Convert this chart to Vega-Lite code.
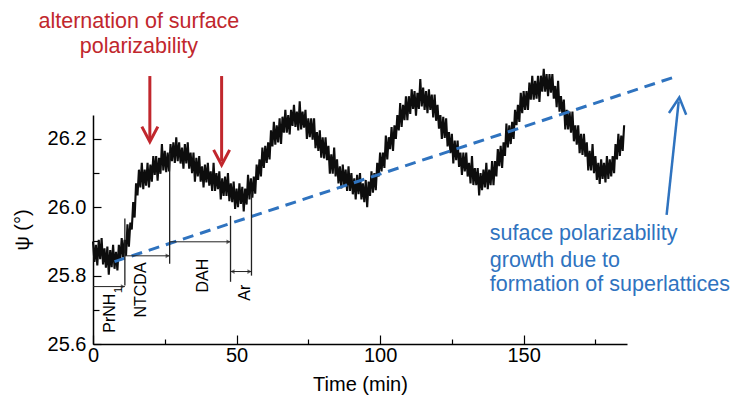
{
  "$schema": "https://vega.github.io/schema/vega-lite/v6.json",
  "width": 534,
  "height": 229,
  "autosize": "none",
  "padding": {"left": 93, "top": 115, "right": 104, "bottom": 61},
  "background": "white",
  "config": {"view": {"stroke": null}, "font": "Liberation Sans"},
  "datasets": {
    "trace": [
{"t":0,"v":25.90},{"t":0.5,"v":25.84},{"t":1,"v":25.89},{"t":1.5,"v":25.83},{"t":2,"v":25.905},{"t":2.5,"v":25.848},{"t":3,"v":25.91},{"t":3.5,"v":25.833},{"t":4,"v":25.88},{"t":4.5,"v":25.823},{"t":5,"v":25.885},{"t":5.5,"v":25.803},{"t":6,"v":25.875},{"t":6.5,"v":25.825},{"t":7,"v":25.89},{"t":7.5,"v":25.82},{"t":8,"v":25.87},{"t":8.5,"v":25.815},{"t":9,"v":25.89},{"t":9.5,"v":25.845},
{"t":10,"v":25.91},{"t":10.5,"v":25.853},{"t":11,"v":25.905},{"t":11.5,"v":25.858},{"t":12,"v":25.95},{"t":12.5,"v":25.885},{"t":13,"v":25.955},{"t":13.5,"v":25.935},{"t":14,"v":26.015},{"t":14.5,"v":25.97},{"t":15,"v":26.07},{"t":15.5,"v":26.035},{"t":16,"v":26.11},{"t":16.5,"v":26.058},{"t":17,"v":26.13},{"t":17.5,"v":26.053},{"t":18,"v":26.11},{"t":18.5,"v":26.063},{"t":19,"v":26.13},{"t":19.5,"v":26.058},
{"t":20,"v":26.125},{"t":20.5,"v":26.075},{"t":21,"v":26.15},{"t":21.5,"v":26.095},{"t":22,"v":26.15},{"t":22.5,"v":26.078},{"t":23,"v":26.145},{"t":23.5,"v":26.098},{"t":24,"v":26.185},{"t":24.5,"v":26.108},{"t":25,"v":26.165},{"t":25.5,"v":26.103},{"t":26,"v":26.16},{"t":26.5,"v":26.105},{"t":27,"v":26.185},{"t":27.5,"v":26.135},{"t":28,"v":26.19},{"t":28.5,"v":26.13},{"t":29,"v":26.205},{"t":29.5,"v":26.135},
{"t":30,"v":26.19},{"t":30.5,"v":26.128},{"t":31,"v":26.175},{"t":31.5,"v":26.113},{"t":32,"v":26.185},{"t":32.5,"v":26.128},{"t":33,"v":26.19},{"t":33.5,"v":26.113},{"t":34,"v":26.16},{"t":34.5,"v":26.10},{"t":35,"v":26.16},{"t":35.5,"v":26.075},{"t":36,"v":26.145},{"t":36.5,"v":26.09},{"t":37,"v":26.15},{"t":37.5,"v":26.075},{"t":38,"v":26.12},{"t":38.5,"v":26.058},{"t":39,"v":26.125},{"t":39.5,"v":26.073},
{"t":40,"v":26.13},{"t":40.5,"v":26.063},{"t":41,"v":26.105},{"t":41.5,"v":26.048},{"t":42,"v":26.13},{"t":42.5,"v":26.048},{"t":43,"v":26.10},{"t":43.5,"v":26.053},{"t":44,"v":26.105},{"t":44.5,"v":26.023},{"t":45,"v":26.085},{"t":45.5,"v":26.033},{"t":46,"v":26.09},{"t":46.5,"v":26.033},{"t":47,"v":26.10},{"t":47.5,"v":26.018},{"t":48,"v":26.07},{"t":48.5,"v":26.015},{"t":49,"v":26.075},{"t":49.5,"v":25.995},
{"t":50,"v":26.055},{"t":50.5,"v":26.00},{"t":51,"v":26.07},{"t":51.5,"v":26.01},{"t":52,"v":26.06},{"t":52.5,"v":25.988},{"t":53,"v":26.055},{"t":53.5,"v":26.008},{"t":54,"v":26.095},{"t":54.5,"v":26.023},{"t":55,"v":26.085},{"t":55.5,"v":26.028},{"t":56,"v":26.09},{"t":56.5,"v":26.04},{"t":57,"v":26.125},{"t":57.5,"v":26.08},{"t":58,"v":26.14},{"t":58.5,"v":26.09},{"t":59,"v":26.175},{"t":59.5,"v":26.115},
{"t":60,"v":26.18},{"t":60.5,"v":26.13},{"t":61,"v":26.19},{"t":61.5,"v":26.14},{"t":62,"v":26.225},{"t":62.5,"v":26.178},{"t":63,"v":26.25},{"t":63.5,"v":26.183},{"t":64,"v":26.24},{"t":64.5,"v":26.19},{"t":65,"v":26.26},{"t":65.5,"v":26.185},{"t":66,"v":26.265},{"t":66.5,"v":26.218},{"t":67,"v":26.285},{"t":67.5,"v":26.218},{"t":68,"v":26.27},{"t":68.5,"v":26.213},{"t":69,"v":26.285},{"t":69.5,"v":26.238},
{"t":70,"v":26.30},{"t":70.5,"v":26.235},{"t":71,"v":26.28},{"t":71.5,"v":26.225},{"t":72,"v":26.31},{"t":72.5,"v":26.228},{"t":73,"v":26.28},{"t":73.5,"v":26.233},{"t":74,"v":26.285},{"t":74.5,"v":26.20},{"t":75,"v":26.26},{"t":75.5,"v":26.205},{"t":76,"v":26.26},{"t":76.5,"v":26.198},{"t":77,"v":26.26},{"t":77.5,"v":26.173},{"t":78,"v":26.22},{"t":78.5,"v":26.165},{"t":79,"v":26.225},{"t":79.5,"v":26.145},
{"t":80,"v":26.205},{"t":80.5,"v":26.143},{"t":81,"v":26.205},{"t":81.5,"v":26.138},{"t":82,"v":26.18},{"t":82.5,"v":26.098},{"t":83,"v":26.155},{"t":83.5,"v":26.098},{"t":84,"v":26.175},{"t":84.5,"v":26.09},{"t":85,"v":26.14},{"t":85.5,"v":26.07},{"t":86,"v":26.12},{"t":86.5,"v":26.055},{"t":87,"v":26.125},{"t":87.5,"v":26.065},{"t":88,"v":26.11},{"t":88.5,"v":26.048},{"t":89,"v":26.12},{"t":89.5,"v":26.048},
{"t":90,"v":26.10},{"t":90.5,"v":26.038},{"t":91,"v":26.085},{"t":91.5,"v":26.023},{"t":92,"v":26.095},{"t":92.5,"v":26.038},{"t":93,"v":26.10},{"t":93.5,"v":26.023},{"t":94,"v":26.07},{"t":94.5,"v":26.015},{"t":95,"v":26.08},{"t":95.5,"v":26.00},{"t":96,"v":26.075},{"t":96.5,"v":26.033},{"t":97,"v":26.105},{"t":97.5,"v":26.043},{"t":98,"v":26.10},{"t":98.5,"v":26.05},{"t":99,"v":26.13},{"t":99.5,"v":26.09},
{"t":100,"v":26.16},{"t":100.5,"v":26.105},{"t":101,"v":26.16},{"t":101.5,"v":26.115},{"t":102,"v":26.21},{"t":102.5,"v":26.14},{"t":103,"v":26.205},{"t":103.5,"v":26.17},{"t":104,"v":26.235},{"t":104.5,"v":26.165},{"t":105,"v":26.24},{"t":105.5,"v":26.20},{"t":106,"v":26.27},{"t":106.5,"v":26.225},{"t":107,"v":26.305},{"t":107.5,"v":26.235},{"t":108,"v":26.30},{"t":108.5,"v":26.255},{"t":109,"v":26.325},{"t":109.5,"v":26.255},
{"t":110,"v":26.325},{"t":110.5,"v":26.273},{"t":111,"v":26.345},{"t":111.5,"v":26.288},{"t":112,"v":26.34},{"t":112.5,"v":26.268},{"t":113,"v":26.335},{"t":113.5,"v":26.288},{"t":114,"v":26.375},{"t":114.5,"v":26.295},{"t":115,"v":26.35},{"t":115.5,"v":26.285},{"t":116,"v":26.34},{"t":116.5,"v":26.275},{"t":117,"v":26.345},{"t":117.5,"v":26.285},{"t":118,"v":26.33},{"t":118.5,"v":26.263},{"t":119,"v":26.33},{"t":119.5,"v":26.253},
{"t":120,"v":26.30},{"t":120.5,"v":26.23},{"t":121,"v":26.27},{"t":121.5,"v":26.20},{"t":122,"v":26.265},{"t":122.5,"v":26.203},{"t":123,"v":26.26},{"t":123.5,"v":26.178},{"t":124,"v":26.22},{"t":124.5,"v":26.158},{"t":125,"v":26.215},{"t":125.5,"v":26.128},{"t":126,"v":26.195},{"t":126.5,"v":26.138},{"t":127,"v":26.195},{"t":127.5,"v":26.118},{"t":128,"v":26.16},{"t":128.5,"v":26.095},{"t":129,"v":26.16},{"t":129.5,"v":26.105},
{"t":130,"v":26.16},{"t":130.5,"v":26.09},{"t":131,"v":26.13},{"t":131.5,"v":26.07},{"t":132,"v":26.15},{"t":132.5,"v":26.065},{"t":133,"v":26.115},{"t":133.5,"v":26.065},{"t":134,"v":26.115},{"t":134.5,"v":26.035},{"t":135,"v":26.10},{"t":135.5,"v":26.05},{"t":136,"v":26.11},{"t":136.5,"v":26.058},{"t":137,"v":26.13},{"t":137.5,"v":26.053},{"t":138,"v":26.11},{"t":138.5,"v":26.065},{"t":139,"v":26.135},{"t":139.5,"v":26.065},
{"t":140,"v":26.135},{"t":140.5,"v":26.09},{"t":141,"v":26.17},{"t":141.5,"v":26.12},{"t":142,"v":26.18},{"t":142.5,"v":26.115},{"t":143,"v":26.19},{"t":143.5,"v":26.15},{"t":144,"v":26.245},{"t":144.5,"v":26.175},{"t":145,"v":26.24},{"t":145.5,"v":26.185},{"t":146,"v":26.25},{"t":146.5,"v":26.20},{"t":147,"v":26.285},{"t":147.5,"v":26.24},{"t":148,"v":26.30},{"t":148.5,"v":26.25},{"t":149,"v":26.335},{"t":149.5,"v":26.275},
{"t":150,"v":26.34},{"t":150.5,"v":26.285},{"t":151,"v":26.34},{"t":151.5,"v":26.285},{"t":152,"v":26.365},{"t":152.5,"v":26.315},{"t":153,"v":26.385},{"t":153.5,"v":26.315},{"t":154,"v":26.37},{"t":154.5,"v":26.318},{"t":155,"v":26.385},{"t":155.5,"v":26.308},{"t":156,"v":26.385},{"t":156.5,"v":26.338},{"t":157,"v":26.405},{"t":157.5,"v":26.338},{"t":158,"v":26.39},{"t":158.5,"v":26.325},{"t":159,"v":26.39},{"t":159.5,"v":26.335},
{"t":160,"v":26.39},{"t":160.5,"v":26.318},{"t":161,"v":26.355},{"t":161.5,"v":26.293},{"t":162,"v":26.37},{"t":162.5,"v":26.28},{"t":163,"v":26.325},{"t":163.5,"v":26.27},{"t":164,"v":26.315},{"t":164.5,"v":26.228},{"t":165,"v":26.285},{"t":165.5,"v":26.228},{"t":166,"v":26.28},{"t":166.5,"v":26.218},{"t":167,"v":26.28},{"t":167.5,"v":26.193},{"t":168,"v":26.24},{"t":168.5,"v":26.183},{"t":169,"v":26.24},{"t":169.5,"v":26.158},
{"t":170,"v":26.215},{"t":170.5,"v":26.153},{"t":171,"v":26.215},{"t":171.5,"v":26.148},{"t":172,"v":26.19},{"t":172.5,"v":26.108},{"t":173,"v":26.165},{"t":173.5,"v":26.108},{"t":174,"v":26.185},{"t":174.5,"v":26.10},{"t":175,"v":26.15},{"t":175.5,"v":26.08},{"t":176,"v":26.13},{"t":176.5,"v":26.068},{"t":177,"v":26.14},{"t":177.5,"v":26.083},{"t":178,"v":26.13},{"t":178.5,"v":26.073},{"t":179,"v":26.15},{"t":179.5,"v":26.083},
{"t":180,"v":26.14},{"t":180.5,"v":26.09},{"t":181,"v":26.15},{"t":181.5,"v":26.10},{"t":182,"v":26.185},{"t":182.5,"v":26.14},{"t":183,"v":26.215},{"t":183.5,"v":26.15},{"t":184,"v":26.21},{"t":184.5,"v":26.165},{"t":185,"v":26.24}
    ],
    "trend": [{"t": 7.5, "v": 25.841, "t2": 203.6, "v2": 26.384}],
    "redArrows": [{"t": 19.8, "v": 26.384, "v2": 26.2}, {"t": 44.8, "v": 26.384, "v2": 26.135}],
    "redHeads": [{"t": 19.8, "v": 26.215}, {"t": 44.8, "v": 26.147}],
    "blueArrow": [{"t": 199.8, "v": 25.978, "t2": 204.0, "v2": 26.31}],
    "blueHead": [{"t": 203.9, "v": 26.296}],
    "phaseV": [{"t": 11.1, "v": 25.771, "v2": 25.967}, {"t": 26.7, "v": 25.835, "v2": 26.159}, {"t": 47.9, "v": 25.782, "v2": 25.975}, {"t": 55.2, "v": 25.8, "v2": 26.046}],
    "phaseH": [{"t": 11.1, "t2": 26.7, "v": 25.858}, {"t": 26.7, "t2": 47.9, "v": 25.899}, {"t": 47.9, "t2": 55.2, "v": 25.812}, {"t": 0, "t2": 11.1, "v": 25.768}],
    "headsR": [{"t": 26.0, "v": 25.858}, {"t": 47.2, "v": 25.899}, {"t": 54.5, "v": 25.812}, {"t": 10.4, "v": 25.768}],
    "headsL": [{"t": 48.6, "v": 25.812}],
    "redText": [{"t": 16.0, "v": 26.525, "label": "alternation of surface"}, {"t": 16.0, "v": 26.451, "label": "polarizability"}],
    "blueText": [{"t": 138.2, "v": 25.905, "label": "suface polarizability"}, {"t": 138.2, "v": 25.826, "label": "growth due to"}, {"t": 138.2, "v": 25.756, "label": "formation of superlattices"}],
    "phaseText": [{"t": 5.9, "v": 25.69, "label": "PrNH"}, {"t": 16.7, "v": 25.758, "label": "NTCDA"}, {"t": 38.4, "v": 25.8, "label": "DAH"}, {"t": 53.1, "v": 25.75, "label": "Ar"}],
    "subText": [{"t": 9.2, "v": 25.758, "label": "1"}]
  },
  "encoding": {
    "x": {
      "field": "t", "type": "quantitative",
      "scale": {"domain": [0, 186], "nice": false, "zero": false},
      "axis": {
        "title": "Time (min)", "titleFontSize": 20, "titleFontWeight": "normal", "titleColor": "black", "titlePadding": 9,
        "values": [0, 25, 50, 75, 100, 125, 150, 175],
        "labelExpr": "datum.value % 50 == 0 ? datum.label : ''",
        "labelFontSize": 20, "labelColor": "black", "labelPadding": 10, "labelFlush": false,
        "domainColor": "black", "domainWidth": 1.5,
        "tickColor": "black", "tickWidth": 1.2,
        "tickSize": {"condition": {"test": "datum.value % 50 == 0", "value": -9}, "value": -5},
        "grid": false
      }
    },
    "y": {
      "field": "v", "type": "quantitative",
      "scale": {"domain": [25.6, 26.27], "nice": false, "zero": false},
      "axis": {
        "title": "ψ (°)", "titleFontSize": 20, "titleFontWeight": "normal", "titleColor": "black", "titlePadding": 15,
        "values": [25.6, 25.7, 25.8, 25.9, 26.0, 26.1, 26.2],
        "labelExpr": "round(datum.value * 10) % 2 == 0 ? format(datum.value, '.1f') : ''",
        "labelFontSize": 20, "labelColor": "black", "labelPadding": 15, "labelFlush": false,
        "domainColor": "black", "domainWidth": 1.5,
        "tickColor": "black", "tickWidth": 1.2,
        "tickSize": {"condition": {"test": "round(datum.value * 10) % 2 == 0", "value": -8}, "value": -6},
        "grid": false
      }
    }
  },
  "layer": [
    {"data": {"name": "trace"}, "mark": {"type": "line", "color": "#0d0d0d", "strokeWidth": 2.1, "clip": false}},
    {"data": {"name": "trend"}, "mark": {"type": "rule", "color": "#2f73bf", "strokeWidth": 3, "strokeDash": [11, 7]},
     "encoding": {"x2": {"field": "t2"}, "y2": {"field": "v2"}}},
    {"data": {"name": "phaseV"}, "mark": {"type": "rule", "color": "#222222", "strokeWidth": 1.3},
     "encoding": {"y2": {"field": "v2"}}},
    {"data": {"name": "phaseH"}, "mark": {"type": "rule", "color": "#222222", "strokeWidth": 1},
     "encoding": {"x2": {"field": "t2"}}},
    {"data": {"name": "headsR"}, "mark": {"type": "point", "shape": "triangle-right", "filled": true, "color": "#222222", "size": 22}, "encoding": {}},
    {"data": {"name": "headsL"}, "mark": {"type": "point", "shape": "triangle-left", "filled": true, "color": "#222222", "size": 22}, "encoding": {}},
    {"data": {"name": "redArrows"}, "mark": {"type": "rule", "color": "#c1272d", "strokeWidth": 3},
     "encoding": {"y2": {"field": "v2"}}},
    {"data": {"name": "redHeads"}, "mark": {"type": "point", "shape": "M-1,-0.9L0,1L1,-0.9", "filled": false, "color": "#c1272d", "strokeWidth": 3, "size": 256, "opacity": 1}, "encoding": {}},
    {"data": {"name": "blueArrow"}, "mark": {"type": "rule", "color": "#2f73bf", "strokeWidth": 2.5},
     "encoding": {"x2": {"field": "t2"}, "y2": {"field": "v2"}}},
    {"data": {"name": "blueHead"}, "mark": {"type": "point", "shape": "M-1,0.9L0,-1L1,0.9", "filled": false, "color": "#2f73bf", "strokeWidth": 2.5, "size": 300, "angle": 6, "opacity": 1}, "encoding": {}},
    {"data": {"name": "redText"}, "mark": {"type": "text", "color": "#c1272d", "fontSize": 21.5, "align": "center", "baseline": "alphabetic", "font": "Liberation Sans"},
     "encoding": {"text": {"field": "label"}}},
    {"data": {"name": "blueText"}, "mark": {"type": "text", "color": "#2f73bf", "fontSize": 21.5, "align": "left", "baseline": "alphabetic", "font": "Liberation Sans"},
     "encoding": {"text": {"field": "label"}}},
    {"data": {"name": "phaseText"}, "mark": {"type": "text", "color": "black", "fontSize": 16, "align": "center", "baseline": "middle", "angle": 270, "font": "Liberation Sans"},
     "encoding": {"text": {"field": "label"}}},
    {"data": {"name": "subText"}, "mark": {"type": "text", "color": "black", "fontSize": 11, "align": "center", "baseline": "middle", "angle": 270, "font": "Liberation Sans"},
     "encoding": {"text": {"field": "label"}}}
  ]
}
